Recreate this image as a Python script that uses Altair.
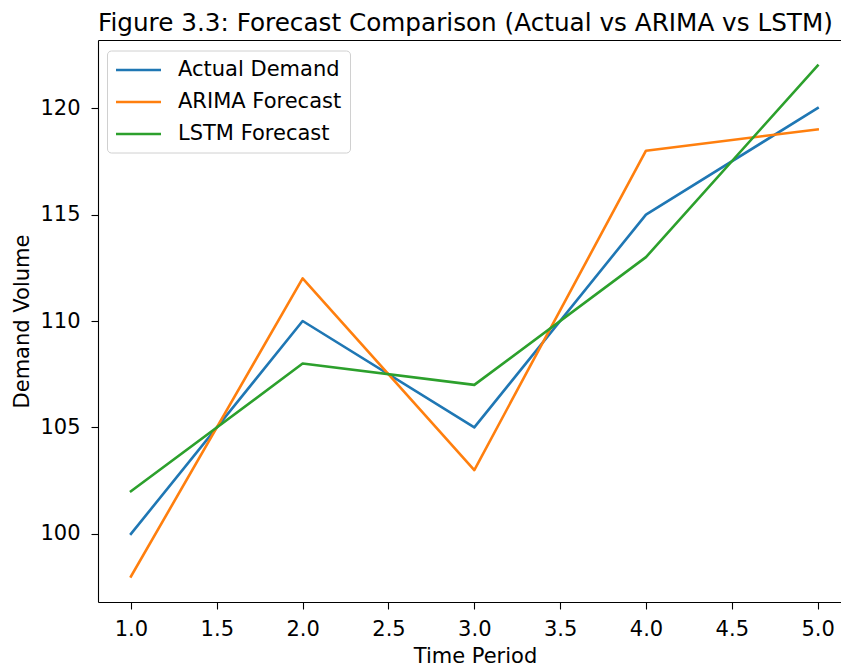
import altair as alt
import pandas as pd

# ---- data ----
time_period = [1, 2, 3, 4, 5]
actual_demand = [100, 110, 105, 115, 120]
arima_forecast = [98, 112, 103, 118, 119]
lstm_forecast = [102, 108, 107, 113, 122]
series_names = ["Actual Demand", "ARIMA Forecast", "LSTM Forecast"]
series_colors = ["#1f77b4", "#ff7f0e", "#2ca02c"]
x_ticks = [1.0, 1.5, 2.0, 2.5, 3.0, 3.5, 4.0, 4.5, 5.0]
y_ticks = [100, 105, 110, 115, 120]

rows = []
for name, vals in zip(series_names, [actual_demand, arima_forecast, lstm_forecast]):
    for t, v in zip(time_period, vals):
        rows.append({"Time Period": t, "Demand": v, "Series": name})
df = pd.DataFrame(rows)

FONT = "DejaVu Sans"
FS = 21
xscale = alt.Scale(domain=[0.808, 5.136], nice=False, zero=False)
yscale = alt.Scale(domain=[96.8, 123.2], nice=False, zero=False)

y_axis = alt.Axis(values=y_ticks, format="d", title="Demand Volume",
                  labelPadding=11, titleX=-70, titleY=281, titleAngle=270,
                  titleBaseline="alphabetic", titleAlign="center")

lines = alt.Chart(df).mark_line(
    strokeWidth=2.6, strokeCap="square", strokeJoin="round", clip=True
).encode(
    x=alt.X("Time Period:Q", scale=xscale,
            axis=alt.Axis(values=x_ticks, format=".1f", title="Time Period",
                          labelPadding=9, titleY=60, titleX=377,
                          titleBaseline="alphabetic", titleAlign="center")),
    y=alt.Y("Demand:Q", scale=yscale, axis=y_axis),
    color=alt.Color("Series:N",
                    scale=alt.Scale(domain=series_names, range=series_colors),
                    legend=alt.Legend(
                        orient="none", legendX=9, legendY=10.5, title=None,
                        labelFont=FONT, labelFontSize=FS, labelColor="black",
                        labelLimit=400,
                        symbolType="M-2.25,0H2.25", symbolSize=400,
                        symbolStrokeWidth=2.6, symbolOffset=12, labelOffset=28,
                        rowPadding=10, padding=8,
                        strokeColor="#d0d0d0", fillColor="rgba(255,255,255,0.8)",
                        cornerRadius=4)),
)

top_spine = alt.Chart(df).mark_line(opacity=0).encode(
    x=alt.X("Time Period:Q", scale=xscale,
            axis=alt.Axis(orient="top", labels=False, ticks=False, title=None)),
    y=alt.Y("Demand:Q", scale=yscale, axis=y_axis),
)

chart = alt.layer(lines, top_spine).resolve_axis(x="independent").properties(
    width=743, height=562,
    padding={"left": 90, "top": 32, "right": 0, "bottom": 66},
    autosize=alt.AutoSizeParams(type="none"),
    title=alt.TitleParams(
        "Figure 3.3: Forecast Comparison (Actual vs ARIMA vs LSTM)",
        font=FONT, fontSize=24.7, fontWeight="normal", color="black",
        anchor="start", frame="group", baseline="alphabetic", offset=12, dy=28),
    background="white",
).configure_view(stroke=None).configure_axis(
    grid=False, domainColor="black", domainWidth=1.1, tickColor="black",
    tickWidth=1.1, tickSize=7, labelFont=FONT, labelFontSize=FS,
    labelColor="black", titleFont=FONT, titleFontSize=FS,
    titleFontWeight="normal", titleColor="black",
)

chart.save("out.html", embed_options={"renderer": "svg", "actions": False})
